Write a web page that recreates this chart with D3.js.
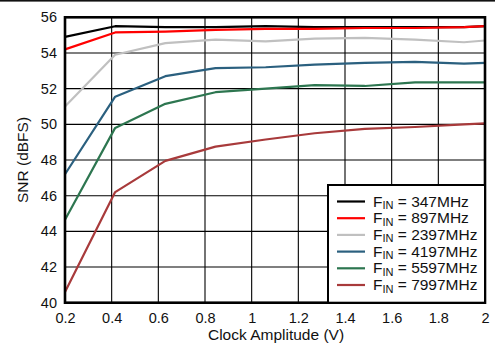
<!DOCTYPE html>
<html><head><meta charset="utf-8">
<script src="https://cdn.jsdelivr.net/npm/d3@7"></script>
<style>
html,body{margin:0;padding:0;background:#fff;}
svg{display:block;font-family:"Liberation Sans",Arial,Helvetica,sans-serif;}
</style></head>
<body>
<svg id="chart" width="495" height="345"></svg>
<script>
const clockAmplitude = [0.2, 0.415, 0.63, 0.845, 1.06, 1.27, 1.485, 1.70, 1.91, 2.0];
const seriesNames = ["347MHz", "897MHz", "2397MHz", "4197MHz", "5597MHz", "7997MHz"];
const seriesColors = ["#000000", "#ff0000", "#c0c0c0", "#2b607f", "#2d7650", "#a83a3b"];
const snr347  = [54.9, 55.5, 55.45, 55.45, 55.5, 55.45, 55.45, 55.45, 55.45, 55.5];
const snr897  = [54.2, 55.15, 55.2, 55.3, 55.35, 55.35, 55.4, 55.4, 55.45, 55.5];
const snr2397 = [51.0, 53.9, 54.55, 54.75, 54.65, 54.8, 54.85, 54.75, 54.6, 54.7];
const snr4197 = [47.2, 51.55, 52.7, 53.15, 53.2, 53.35, 53.45, 53.5, 53.4, 53.45];
const snr5597 = [44.65, 49.8, 51.15, 51.8, 52.0, 52.2, 52.15, 52.35, 52.35, 52.35];
const snr7997 = [40.6, 46.2, 47.95, 48.75, 49.15, 49.5, 49.75, 49.85, 50.0, 50.05];
const xTicks = [0.2, 0.4, 0.6, 0.8, 1, 1.2, 1.4, 1.6, 1.8, 2];
const yTicks = [40, 42, 44, 46, 48, 50, 52, 54, 56];
const allSeries = [snr347, snr897, snr2397, snr4197, snr5597, snr7997];

const svg = d3.select("#chart");
const L = 65, R = 485, T = 17.3, B = 302.7;
const x = d3.scaleLinear().domain([0.2, 2]).range([L, R]);
const y = d3.scaleLinear().domain([40, 56]).range([B, T]);

// top border line of the figure
svg.append("rect").attr("x", 0).attr("y", 0).attr("width", 495).attr("height", 1.6).attr("fill", "#111");

// grid
const grid = svg.append("g");
grid.selectAll(".vg").data(xTicks.slice(1, -1)).enter().append("line")
  .attr("x1", d => x(d)).attr("x2", d => x(d)).attr("y1", T).attr("y2", B)
  .attr("stroke", "#000").attr("stroke-width", 1.1);
grid.selectAll(".hg").data(yTicks.slice(1, -1)).enter().append("line")
  .attr("y1", d => y(d)).attr("y2", d => y(d)).attr("x1", L).attr("x2", R)
  .attr("stroke", "#000").attr("stroke-width", 1.1);

// axes tick labels via d3 axes
const xAxis = svg.append("g").attr("transform", `translate(0,${B})`)
  .call(d3.axisBottom(x).tickValues(xTicks).tickSize(0).tickPadding(10).tickFormat(d3.format("")));
const yAxis = svg.append("g").attr("transform", `translate(${L},0)`)
  .call(d3.axisLeft(y).tickValues(yTicks).tickSize(0).tickPadding(8).tickFormat(d3.format("")));
[xAxis, yAxis].forEach(a => {
  a.select(".domain").remove();
  a.selectAll("text").attr("font-size", 14.5).attr("fill", "#111")
    .attr("font-family", "'Liberation Sans', Arial, sans-serif");
});

// lines
const lineGen = d3.line().x((d, i) => x(clockAmplitude[i])).y(d => y(d));
const order = [2, 5, 4, 3, 0, 1];
order.forEach(k => {
  svg.append("path").datum(allSeries[k]).attr("d", lineGen)
    .attr("fill", "none").attr("stroke", seriesColors[k]).attr("stroke-width", 2.2)
    .attr("stroke-linejoin", "round");
});

// frame
svg.append("rect").attr("x", L).attr("y", T).attr("width", R - L).attr("height", B - T)
  .attr("fill", "none").attr("stroke", "#000").attr("stroke-width", 2.6);

// legend
const lg = svg.append("g");
const lx0 = 328, ly0 = 185;
lg.append("rect").attr("x", lx0).attr("y", ly0).attr("width", R - lx0).attr("height", B - ly0)
  .attr("fill", "#fff").attr("stroke", "#000").attr("stroke-width", 2);
seriesNames.forEach((name, i) => {
  const cy = 201.5 + i * 16.7;
  lg.append("line").attr("x1", 337).attr("x2", 365).attr("y1", cy).attr("y2", cy)
    .attr("stroke", seriesColors[i]).attr("stroke-width", 2.2);
  const t = lg.append("text").attr("x", 373).attr("y", cy + 5).attr("font-size", 15.5).attr("fill", "#111");
  t.append("tspan").text("F");
  t.append("tspan").attr("font-size", 11).attr("dy", 2.5).text("IN");
  t.append("tspan").attr("dy", -2.5).text(" = " + name);
});

// axis titles
svg.append("text").attr("x", 276).attr("y", 340).attr("text-anchor", "middle")
  .attr("font-size", 15.5).attr("fill", "#111").text("Clock Amplitude (V)");
svg.append("text").attr("transform", `translate(28,${(T + B) / 2}) rotate(-90)`)
  .attr("text-anchor", "middle").attr("font-size", 15.5).attr("fill", "#111").text("SNR (dBFS)");
</script>
</body></html>
